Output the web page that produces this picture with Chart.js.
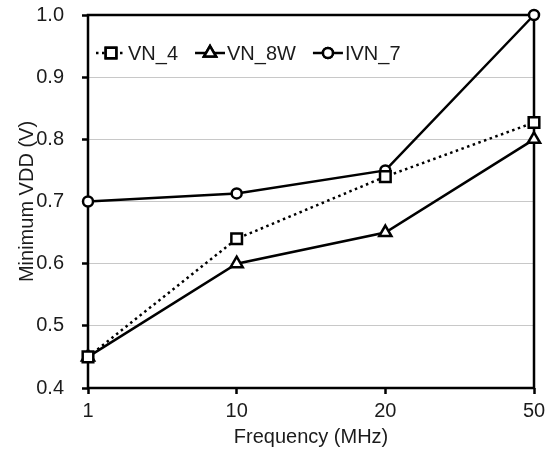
<!DOCTYPE html>
<html>
<head>
<meta charset="utf-8">
<script src="https://cdn.jsdelivr.net/npm/chart.js@4.4.1/dist/chart.umd.min.js"></script>
<style>
  html, body { margin: 0; padding: 0; background: #fff; }
</style>
</head>
<body>
<canvas id="chart" width="559" height="453"></canvas>
<script>
// data
const frequencies = ['1', '10', '20', '50'];
const seriesNames = ['VN_4', 'VN_8W', 'IVN_7'];
const vn4 = [0.45, 0.64, 0.74, 0.827];
const vn8w = [0.45, 0.60, 0.65, 0.80];
const ivn7 = [0.70, 0.713, 0.75, 1.0];
const yMin = 0.4;
const yMax = 1.0;
const yStep = 0.1;

const FONT = "'Liberation Sans', Arial, Helvetica, sans-serif";
const INK = '#1b1b1b';

// box around the plot area, drawn under the lines so markers sit on top
const boxPlugin = {
    id: 'box',
    beforeDatasetsDraw(chart) {
        const { ctx, chartArea: a } = chart;
        ctx.save();
        ctx.strokeStyle = '#000';
        ctx.lineWidth = 2.5;
        ctx.strokeRect(a.left, a.top, a.right - a.left, a.bottom - a.top);
        ctx.restore();
    }
};

// legend inside the plot: short line + marker + name
const insideLegend = {
    id: 'insideLegend',
    afterDatasetsDraw(chart) {
        const { ctx, chartArea: a } = chart;
        let x = a.left + 8;
        const y = a.top + 38;
        ctx.save();
        ctx.font = '20px ' + FONT;
        ctx.textBaseline = 'middle';
        chart.data.datasets.forEach((ds) => {
            ctx.strokeStyle = ds.borderColor;
            ctx.lineWidth = ds.borderWidth;
            ctx.setLineDash(ds.borderDash || []);
            ctx.beginPath();
            ctx.moveTo(x, y);
            ctx.lineTo(x + 30, y);
            ctx.stroke();
            ctx.setLineDash([]);
            Chart.helpers.drawPoint(ctx, {
                pointStyle: ds.pointStyle,
                radius: ds.pointRadius,
                borderWidth: ds.pointBorderWidth
            }, x + 15, y);
            ctx.fillStyle = ds.pointBackgroundColor;
            ctx.strokeStyle = ds.borderColor;
            ctx.fill();
            ctx.stroke();
            ctx.fillStyle = INK;
            ctx.fillText(ds.label, x + 32, y + 1);
            x += 32 + ctx.measureText(ds.label).width + 17;
        });
        ctx.restore();
    }
};

const ctx = document.getElementById('chart').getContext('2d');
new Chart(ctx, {
    type: 'line',
    data: {
        labels: frequencies,
        datasets: [
            {
                label: seriesNames[0],
                data: vn4,
                borderColor: '#000',
                borderWidth: 2.5,
                borderDash: [2.5, 3.5],
                pointStyle: 'rect',
                pointRadius: 7.5,
                pointBorderWidth: 2.5,
                pointBackgroundColor: '#fff',
                pointBorderColor: '#000',
                tension: 0,
                clip: false
            },
            {
                label: seriesNames[1],
                data: vn8w,
                borderColor: '#000',
                borderWidth: 2.5,
                pointStyle: 'triangle',
                pointRadius: 7,
                pointBorderWidth: 2.5,
                pointBackgroundColor: '#fff',
                pointBorderColor: '#000',
                tension: 0,
                clip: false
            },
            {
                label: seriesNames[2],
                data: ivn7,
                borderColor: '#000',
                borderWidth: 2.5,
                pointStyle: 'circle',
                pointRadius: 5,
                pointBorderWidth: 2.5,
                pointBackgroundColor: '#fff',
                pointBorderColor: '#000',
                tension: 0,
                clip: false
            }
        ]
    },
    options: {
        responsive: false,
        animation: false,
        devicePixelRatio: 1,
        layout: {
            padding: { left: 0, right: 25, top: 15, bottom: 0 }
        },
        plugins: {
            legend: { display: false },
            tooltip: { enabled: false }
        },
        scales: {
            x: {
                type: 'category',
                offset: false,
                afterFit: (s) => { s.height = 65; },
                grid: {
                    drawOnChartArea: false,
                    tickColor: '#000',
                    tickLength: 6,
                    tickWidth: 2.5
                },
                border: { display: false },
                ticks: {
                    color: INK,
                    padding: 5,
                    font: { family: FONT, size: 20 }
                },
                title: {
                    display: true,
                    text: 'Frequency (MHz)',
                    color: INK,
                    padding: { top: 0, bottom: 4 },
                    font: { family: FONT, size: 20 }
                }
            },
            y: {
                min: yMin,
                max: yMax,
                afterFit: (s) => {
                    s.width = 88;
                    s.paddingTop = 0;
                    s.paddingBottom = 0;
                },
                grid: {
                    color: '#c8c8c8',
                    lineWidth: 1,
                    tickColor: '#000',
                    tickLength: 6,
                    tickWidth: 2.5
                },
                border: { display: false },
                ticks: {
                    stepSize: yStep,
                    color: INK,
                    padding: 18,
                    font: { family: FONT, size: 20 },
                    callback: (v) => v.toFixed(1)
                },
                title: {
                    display: true,
                    text: 'Minimum VDD (V)',
                    color: INK,
                    padding: { top: 15, bottom: 0 },
                    font: { family: FONT, size: 20 }
                }
            }
        }
    },
    plugins: [boxPlugin, insideLegend]
});
</script>
</body>
</html>
